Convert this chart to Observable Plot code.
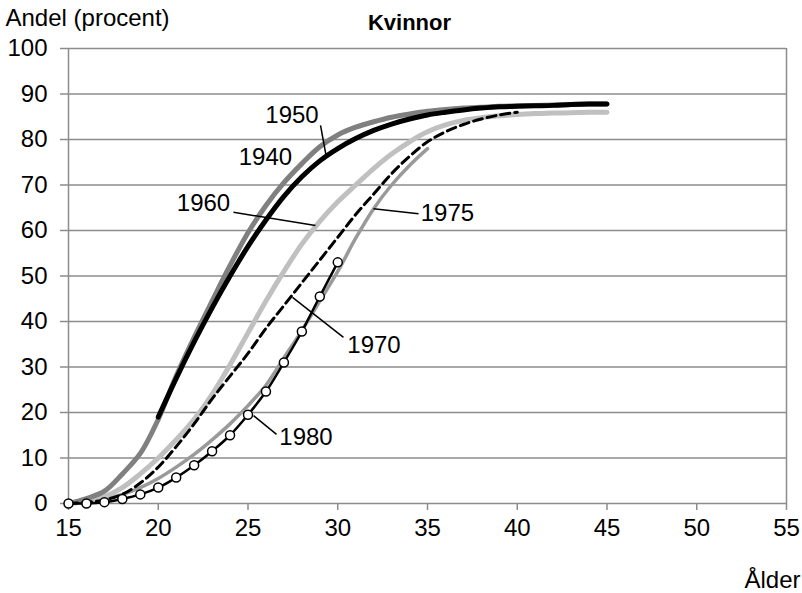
<!DOCTYPE html>
<html>
<head>
<meta charset="utf-8">
<script src="https://cdn.jsdelivr.net/npm/d3@7"></script>
<script src="https://cdn.jsdelivr.net/npm/@observablehq/plot@0.6"></script>
<style>
  html, body { margin: 0; padding: 0; background: #fff; }
  #chart { width: 802px; height: 593px; }
</style>
</head>
<body>
<div id="chart"></div>
<script>
// Ages (x categories)
const ages = [15,16,17,18,19,20,21,22,23,24,25,26,27,28,29,30,31,32,33,34,35,36,37,38,39,40,41,42,43,44,45];

// Series values (percent), aligned with ages; null = not observed
const v1940 = [null,null,null,null,null,19,27.5,35.5,43,50,56.5,62.3,67.5,71.8,75.3,78,80.2,82,83.4,84.5,85.4,86,86.5,86.9,87.2,87.3,87.4,87.5,87.7,87.8,87.8];
const v1950 = [0,1.1,2.7,6.5,11,18.5,28,36.5,44.5,52.3,59.5,65.5,70.5,74.7,78.4,81,82.7,83.9,84.9,85.6,86.2,86.6,86.9,87.1,87.3,87.4,87.5,87.6,87.7,87.8,87.8];
const v1960 = [0,0.5,1.5,3.5,6.5,10,14,18.5,24,30.5,37.5,44.5,51,57,62,66.3,70,73.6,76.8,79.5,81.7,83.2,84.2,84.8,85.2,85.5,85.7,85.8,85.9,86,86];
const v1970 = [0,0.3,0.8,2,4.5,8,12.5,17.5,23,28,33,38.5,43.5,48.5,53.5,58.5,63.5,68,72.5,76.3,79.5,81.7,83.3,84.5,85.4,86,null,null,null,null,null];
const v1975 = [0,0.3,1,2,3.5,5.5,8,10.8,14,17.5,21.5,26,32,38,44.5,51,58.3,64.8,70,74.3,78,null,null,null,null,null,null,null,null,null,null];
const v1980 = [0,0,0.3,1,2,3.5,5.7,8.4,11.5,15,19.5,24.6,31,37.8,45.5,53,null,null,null,null,null,null,null,null,null,null,null,null,null,null,null];

// Tick values
const xTicks = [15,20,25,30,35,40,45,50,55];
const yTicks = [0,10,20,30,40,50,60,70,80,90,100];

// Series labels (placed in data coordinates: age, percent)
const labelText  = ["1950","1940","1960","1975","1970","1980"];
const labelAge   = [27.45, 25.97, 22.52, 36.11, 32.02, 28.23];
const labelValue = [85.3, 76.0, 65.9, 63.7, 34.7, 14.5];

// Leader lines (from label to curve), data coordinates
const leaderAge1   = [29.04, 24.19, 34.50, 30.32, 26.59];
const leaderValue1 = [83.1, 64.0, 63.7, 36.5, 15.2];
const leaderAge2   = [29.37, 28.76, 31.99, 27.48, 25.31];
const leaderValue2 = [76.0, 61.1, 64.8, 45.3, 19.3];

function rows(values) {
  return ages.map((a, i) => ({age: a, value: values[i]})).filter(d => d.value != null);
}
const r1940 = rows(v1940), r1950 = rows(v1950), r1960 = rows(v1960),
      r1970 = rows(v1970), r1975 = rows(v1975), r1980 = rows(v1980);

const labels = labelText.map((t, i) => ({t, age: labelAge[i], value: labelValue[i]}));
const leaders = leaderAge1.map((a, i) => ({x1: a, y1: leaderValue1[i], x2: leaderAge2[i], y2: leaderValue2[i]}));

const grid = "#8c8c8c";
const FS = 24;
const curve = "catmull-rom";

const chart = Plot.plot({
  width: 802,
  height: 593,
  marginLeft: 68,
  marginRight: 16,
  marginTop: 48,
  marginBottom: 90,
  style: {fontFamily: "'Liberation Sans', Arial, sans-serif", fontSize: FS + "px", background: "#fff", color: "#000", overflow: "visible"},
  x: {domain: [15, 55], label: null},
  y: {domain: [0, 100], label: null},
  marks: [
    Plot.ruleY(yTicks.filter(d => d > 0), {stroke: grid, strokeWidth: 1.5}),
    Plot.ruleX([15], {stroke: grid, strokeWidth: 1.5}),
    Plot.ruleX([55], {stroke: grid, strokeWidth: 1.5}),
    Plot.ruleY([0], {stroke: grid, strokeWidth: 1.5}),
    Plot.axisY({ticks: yTicks, tickSize: 8, tickPadding: 13, stroke: grid, strokeWidth: 1.5, fontSize: FS, tickFormat: d => String(d)}),
    Plot.axisX({ticks: xTicks, tickSize: 7, tickPadding: 8, stroke: grid, strokeWidth: 1.5, fontSize: FS, tickFormat: d => String(d)}),
    Plot.line(r1975, {x: "age", y: "value", stroke: "#9a9a9a", strokeWidth: 3.5, curve, strokeLinecap: "round"}),
    Plot.line(r1960, {x: "age", y: "value", stroke: "#c0c0c0", strokeWidth: 5, curve, strokeLinecap: "round"}),
    Plot.line(r1950, {x: "age", y: "value", stroke: "#808080", strokeWidth: 5, curve, strokeLinecap: "round"}),
    Plot.line(r1940, {x: "age", y: "value", stroke: "#000", strokeWidth: 5, curve, strokeLinecap: "round"}),
    Plot.line(r1970, {x: "age", y: "value", stroke: "#000", strokeWidth: 3, curve, strokeDasharray: "9,5"}),
    Plot.line(r1980, {x: "age", y: "value", stroke: "#000", strokeWidth: 2.5, curve}),
    Plot.dot(r1980, {x: "age", y: "value", r: 4.5, fill: "#fff", stroke: "#000", strokeWidth: 1.5}),
    Plot.link(leaders, {x1: "x1", y1: "y1", x2: "x2", y2: "y2", stroke: "#000", strokeWidth: 1.5}),
    Plot.text(labels, {x: "age", y: "value", text: "t", fontSize: FS, fill: "#000"}),
    Plot.text(["Andel (procent)"], {frameAnchor: "top-left", dx: -63, dy: -40, textAnchor: "start", fontSize: FS, fill: "#000"}),
    Plot.text(["Kvinnor"], {frameAnchor: "top", dx: -18, dy: -34, fontSize: 22, fontWeight: "bold", fill: "#000"}),
    Plot.text(["Ålder"], {frameAnchor: "bottom-right", dx: 14, dy: 84, textAnchor: "end", fontSize: FS, fill: "#000"})
  ]
});
document.getElementById("chart").appendChild(chart);
</script>
</body>
</html>
